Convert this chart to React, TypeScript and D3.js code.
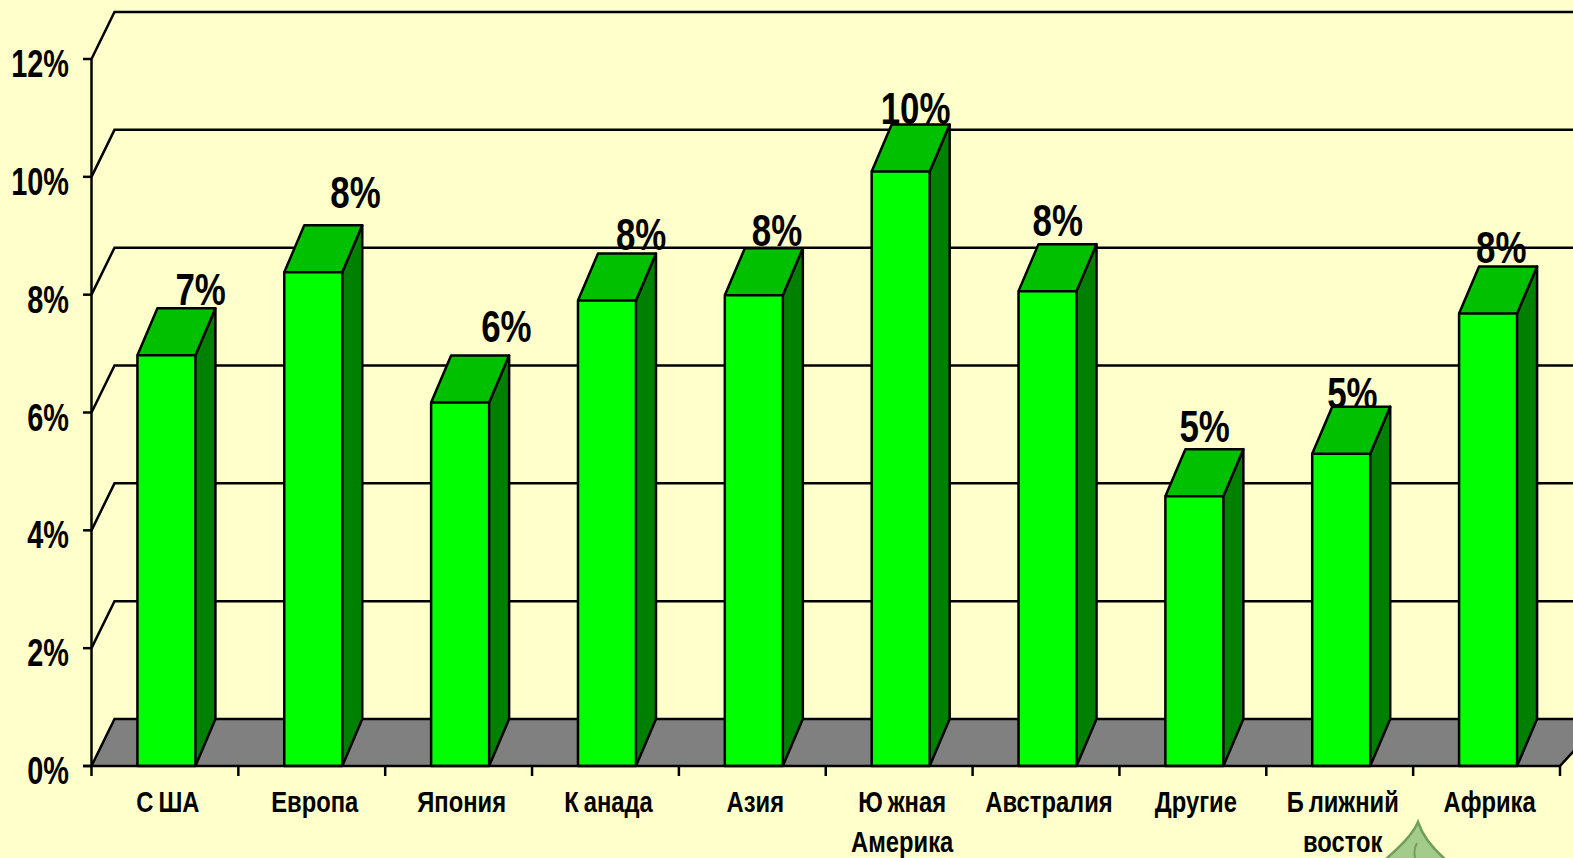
import React from "react";
import * as d3 from "d3";

const W = 1573;
const H = 858;

const categories = ["США", "Европа", "Япония", "Канада", "Азия", "Южная|Америка", "Австралия", "Другие", "Ближний|восток", "Африка"];
const values = [6.97, 8.38, 6.17, 7.9, 7.99, 10.09, 8.06, 4.58, 5.3, 7.68];
const labels = ["7%", "8%", "6%", "8%", "8%", "10%", "8%", "5%", "5%", "8%"];
const yTicks = [0, 2, 4, 6, 8, 10, 12];
// the original's font leaves a gap after the first letter of these words
const gappedWords = ["США", "Канада", "Южная", "Ближний"];

// hand-placed data labels in the original, offset from the front top corner of each bar
const labelOffsets = [
  [38, -50], [46, -64], [50, -60], [38, -51], [27, -49], [9, -48], [14, -55], [14, -54], [15, -45], [17, -51]
];

// no narrow face is installed, so the text is squeezed sideways
const font = "'Liberation Sans', sans-serif";
const bg = "#ffffcc";
const depth = { x: 23, y: 47 };
const barDepth = { x: 20, y: 47 };

const App = () => {
  const y = d3.scaleLinear().domain([0, 12]).range([766, 59]);
  const x = d3.scaleBand<string>().domain(categories).range([91.5, 1560]).paddingInner(0).paddingOuter(0);
  const barW = 58;
  const barLeft = (c: string) => x(c)! + (x.bandwidth() - barW) / 2 + 1.5;
  const tickXs = categories.map(c => x(c)!).concat(1560);

  const line = d3.line();
  const wall = (v: number) =>
    line([[91.5, y(v)], [91.5 + depth.x, y(v) - depth.y], [W + 10, y(v) - depth.y]]);
  const squeeze = (tx: number, ty: number, sx: number) => `translate(${tx} ${ty}) scale(${sx} 1)`;

  return (
    <svg width={W} height={H} style={{ position: "fixed", left: 0, top: 0, background: bg }} fontFamily={font} fontWeight="bold">
      {/* floor */}
      <path
        d={line([[91.5, y(0)], [91.5 + depth.x, y(0) - depth.y], [W + 30, y(0) - depth.y], [1560, y(0)]])!}
        fill="#808080"
        stroke="#000"
        strokeWidth={2.5}
      />

      {/* data labels sit behind the wall lines and the bars */}
      {categories.map((c, i) => (
        <text
          key={c}
          transform={squeeze(barLeft(c) + labelOffsets[i][0], y(values[i]) + labelOffsets[i][1], 0.775)}
          fontSize={45}
          fill="#000"
        >
          {labels[i]}
        </text>
      ))}

      {/* back wall lines */}
      {yTicks.slice(1).map(v => (
        <path key={v} d={wall(v)!} fill="none" stroke="#000" strokeWidth={2.5} />
      ))}

      {/* bars */}
      {categories.map((c, i) => {
        const l = barLeft(c);
        const r = l + barW;
        const t = y(values[i]);
        const b = y(0);
        return (
          <g key={c} stroke="#000" strokeWidth={2.5} strokeLinejoin="round">
            <path d={line([[r, t], [r + barDepth.x, t - barDepth.y], [r + barDepth.x, b - barDepth.y], [r, b]])!} fill="#008000" />
            <path d={line([[l, t], [l + barDepth.x, t - barDepth.y], [r + barDepth.x, t - barDepth.y], [r, t]])!} fill="#00c000" />
            <rect x={l} y={t} width={barW} height={b - t} fill="#00ff00" />
          </g>
        );
      })}

      {/* axes */}
      <g stroke="#000" strokeWidth={2.5}>
        <line x1={91.5} x2={91.5} y1={y(12)} y2={y(0)} />
        <line x1={83} x2={1560} y1={y(0)} y2={y(0)} />
        {yTicks.map(v => (
          <line key={v} x1={83} x2={91.5} y1={y(v)} y2={y(v)} />
        ))}
        {tickXs.map(t => (
          <line key={t} x1={t} x2={t} y1={y(0)} y2={y(0) + 10} />
        ))}
      </g>

      {yTicks.map(v => (
        <text key={v} transform={squeeze(69, y(v) + 18, 0.76)} textAnchor="end" fontSize={38} fill="#000">
          {v}%
        </text>
      ))}

      {categories.map(c => {
        const cx = x(c)! + x.bandwidth() / 2 + 3;
        return c.split("|").map((part, j) => (
          <text key={part} transform={squeeze(cx, 812 + j * 40, 0.82)} textAnchor="middle" fontSize={29} fill="#000">
            {gappedWords.includes(part) ? (
              <>
                {part[0]}
                <tspan dx={6}>{part.slice(1)}</tspan>
              </>
            ) : (
              part
            )}
          </text>
        ));
      })}

      {/* leaf from the slide background, cut off by the bottom edge */}
      <path
        d="M1418,822 C1422,834 1432,848 1446,860 L1385,860 C1398,848 1412,836 1418,822 Z"
        fill="#a3cc8a"
        stroke="#6f9f58"
        strokeWidth={2.5}
      />
      <path d="M1417,843 C1414,848 1414,853 1415,858" fill="none" stroke="#6f9f58" strokeWidth={2} />
    </svg>
  );
};

export default App;
